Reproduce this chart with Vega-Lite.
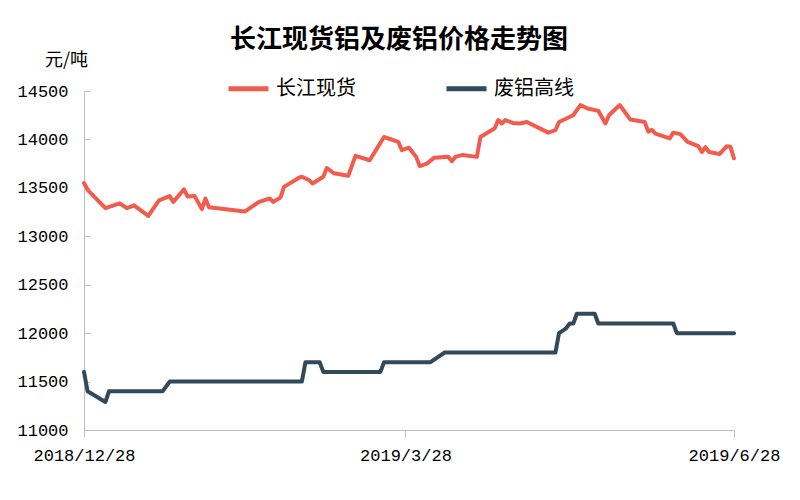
{
  "$schema": "https://vega.github.io/schema/vega-lite/v6.json",
  "width": 650,
  "height": 339,
  "autosize": {"type": "none"},
  "padding": {"left": 84, "top": 91, "right": 66, "bottom": 70},
  "background": "white",
  "title": {
    "text": "长江现货铝及废铝价格走势图",
    "font": "Noto Sans CJK SC",
    "fontSize": 26,
    "fontWeight": "bold",
    "color": "#000000",
    "anchor": "middle",
    "dx": -10,
    "offset": -2
  },
  "data": {
    "values": [
      {"date": "2018-12-28T00:00:00", "series": "长江现货", "value": 13550},
      {"date": "2018-12-29T00:00:00", "series": "长江现货", "value": 13480},
      {"date": "2019-01-03T00:00:00", "series": "长江现货", "value": 13290},
      {"date": "2019-01-07T00:00:00", "series": "长江现货", "value": 13340},
      {"date": "2019-01-09T00:00:00", "series": "长江现货", "value": 13290},
      {"date": "2019-01-11T00:00:00", "series": "长江现货", "value": 13320},
      {"date": "2019-01-15T00:00:00", "series": "长江现货", "value": 13210},
      {"date": "2019-01-18T00:00:00", "series": "长江现货", "value": 13370},
      {"date": "2019-01-21T00:00:00", "series": "长江现货", "value": 13415},
      {"date": "2019-01-22T00:00:00", "series": "长江现货", "value": 13355},
      {"date": "2019-01-25T00:00:00", "series": "长江现货", "value": 13485},
      {"date": "2019-01-26T00:00:00", "series": "长江现货", "value": 13410},
      {"date": "2019-01-28T00:00:00", "series": "长江现货", "value": 13415},
      {"date": "2019-01-30T00:00:00", "series": "长江现货", "value": 13280},
      {"date": "2019-01-31T00:00:00", "series": "长江现货", "value": 13390},
      {"date": "2019-02-01T00:00:00", "series": "长江现货", "value": 13300},
      {"date": "2019-02-11T00:00:00", "series": "长江现货", "value": 13255},
      {"date": "2019-02-15T00:00:00", "series": "长江现货", "value": 13355},
      {"date": "2019-02-18T00:00:00", "series": "长江现货", "value": 13390},
      {"date": "2019-02-19T00:00:00", "series": "长江现货", "value": 13355},
      {"date": "2019-02-21T00:00:00", "series": "长江现货", "value": 13400},
      {"date": "2019-02-22T00:00:00", "series": "长江现货", "value": 13510},
      {"date": "2019-02-26T00:00:00", "series": "长江现货", "value": 13600},
      {"date": "2019-02-27T00:00:00", "series": "长江现货", "value": 13615},
      {"date": "2019-03-01T00:00:00", "series": "长江现货", "value": 13580},
      {"date": "2019-03-02T00:00:00", "series": "长江现货", "value": 13545},
      {"date": "2019-03-05T00:00:00", "series": "长江现货", "value": 13615},
      {"date": "2019-03-06T00:00:00", "series": "长江现货", "value": 13705},
      {"date": "2019-03-08T00:00:00", "series": "长江现货", "value": 13650},
      {"date": "2019-03-12T00:00:00", "series": "长江现货", "value": 13625},
      {"date": "2019-03-14T00:00:00", "series": "长江现货", "value": 13830},
      {"date": "2019-03-18T00:00:00", "series": "长江现货", "value": 13785},
      {"date": "2019-03-20T00:00:00", "series": "长江现货", "value": 13905},
      {"date": "2019-03-22T00:00:00", "series": "长江现货", "value": 14025},
      {"date": "2019-03-26T00:00:00", "series": "长江现货", "value": 13975},
      {"date": "2019-03-27T00:00:00", "series": "长江现货", "value": 13890},
      {"date": "2019-03-29T00:00:00", "series": "长江现货", "value": 13915},
      {"date": "2019-03-31T00:00:00", "series": "长江现货", "value": 13820},
      {"date": "2019-04-01T00:00:00", "series": "长江现货", "value": 13725},
      {"date": "2019-04-03T00:00:00", "series": "长江现货", "value": 13750},
      {"date": "2019-04-05T00:00:00", "series": "长江现货", "value": 13810},
      {"date": "2019-04-09T00:00:00", "series": "长江现货", "value": 13820},
      {"date": "2019-04-10T00:00:00", "series": "长江现货", "value": 13775},
      {"date": "2019-04-11T00:00:00", "series": "长江现货", "value": 13820},
      {"date": "2019-04-13T00:00:00", "series": "长江现货", "value": 13840},
      {"date": "2019-04-17T00:00:00", "series": "长江现货", "value": 13820},
      {"date": "2019-04-18T00:00:00", "series": "长江现货", "value": 14025},
      {"date": "2019-04-22T00:00:00", "series": "长江现货", "value": 14115},
      {"date": "2019-04-23T00:00:00", "series": "长江现货", "value": 14200},
      {"date": "2019-04-24T00:00:00", "series": "长江现货", "value": 14165},
      {"date": "2019-04-25T00:00:00", "series": "长江现货", "value": 14200},
      {"date": "2019-04-27T00:00:00", "series": "长江现货", "value": 14170},
      {"date": "2019-04-29T00:00:00", "series": "长江现货", "value": 14165},
      {"date": "2019-05-01T00:00:00", "series": "长江现货", "value": 14180},
      {"date": "2019-05-07T00:00:00", "series": "长江现货", "value": 14070},
      {"date": "2019-05-09T00:00:00", "series": "长江现货", "value": 14095},
      {"date": "2019-05-10T00:00:00", "series": "长江现货", "value": 14180},
      {"date": "2019-05-14T00:00:00", "series": "长江现货", "value": 14250},
      {"date": "2019-05-16T00:00:00", "series": "长江现货", "value": 14355},
      {"date": "2019-05-18T00:00:00", "series": "长江现货", "value": 14320},
      {"date": "2019-05-21T00:00:00", "series": "长江现货", "value": 14295},
      {"date": "2019-05-23T00:00:00", "series": "长江现货", "value": 14165},
      {"date": "2019-05-24T00:00:00", "series": "长江现货", "value": 14250},
      {"date": "2019-05-27T00:00:00", "series": "长江现货", "value": 14355},
      {"date": "2019-05-30T00:00:00", "series": "长江现货", "value": 14205},
      {"date": "2019-06-03T00:00:00", "series": "长江现货", "value": 14180},
      {"date": "2019-06-04T00:00:00", "series": "长江现货", "value": 14080},
      {"date": "2019-06-05T00:00:00", "series": "长江现货", "value": 14100},
      {"date": "2019-06-06T00:00:00", "series": "长江现货", "value": 14060},
      {"date": "2019-06-10T00:00:00", "series": "长江现货", "value": 14010},
      {"date": "2019-06-11T00:00:00", "series": "长江现货", "value": 14070},
      {"date": "2019-06-13T00:00:00", "series": "长江现货", "value": 14055},
      {"date": "2019-06-15T00:00:00", "series": "长江现货", "value": 13975},
      {"date": "2019-06-18T00:00:00", "series": "长江现货", "value": 13930},
      {"date": "2019-06-19T00:00:00", "series": "长江现货", "value": 13870},
      {"date": "2019-06-20T00:00:00", "series": "长江现货", "value": 13920},
      {"date": "2019-06-21T00:00:00", "series": "长江现货", "value": 13870},
      {"date": "2019-06-24T00:00:00", "series": "长江现货", "value": 13850},
      {"date": "2019-06-26T00:00:00", "series": "长江现货", "value": 13930},
      {"date": "2019-06-27T00:00:00", "series": "长江现货", "value": 13925},
      {"date": "2019-06-28T00:00:00", "series": "长江现货", "value": 13805},
      {"date": "2018-12-28T00:00:00", "series": "废铝高线", "value": 11600},
      {"date": "2018-12-29T00:00:00", "series": "废铝高线", "value": 11400},
      {"date": "2019-01-03T00:00:00", "series": "废铝高线", "value": 11290},
      {"date": "2019-01-04T00:00:00", "series": "废铝高线", "value": 11400},
      {"date": "2019-01-19T00:00:00", "series": "废铝高线", "value": 11400},
      {"date": "2019-01-21T00:00:00", "series": "废铝高线", "value": 11500},
      {"date": "2019-02-27T00:00:00", "series": "废铝高线", "value": 11500},
      {"date": "2019-02-28T00:00:00", "series": "废铝高线", "value": 11700},
      {"date": "2019-03-04T00:00:00", "series": "废铝高线", "value": 11700},
      {"date": "2019-03-05T00:00:00", "series": "废铝高线", "value": 11600},
      {"date": "2019-03-21T00:00:00", "series": "废铝高线", "value": 11600},
      {"date": "2019-03-22T00:00:00", "series": "废铝高线", "value": 11700},
      {"date": "2019-04-04T00:00:00", "series": "废铝高线", "value": 11700},
      {"date": "2019-04-08T00:00:00", "series": "废铝高线", "value": 11800},
      {"date": "2019-05-09T00:00:00", "series": "废铝高线", "value": 11800},
      {"date": "2019-05-10T00:00:00", "series": "废铝高线", "value": 12000},
      {"date": "2019-05-12T00:00:00", "series": "废铝高线", "value": 12050},
      {"date": "2019-05-13T00:00:00", "series": "废铝高线", "value": 12100},
      {"date": "2019-05-14T00:00:00", "series": "废铝高线", "value": 12100},
      {"date": "2019-05-15T00:00:00", "series": "废铝高线", "value": 12200},
      {"date": "2019-05-20T00:00:00", "series": "废铝高线", "value": 12200},
      {"date": "2019-05-21T00:00:00", "series": "废铝高线", "value": 12100},
      {"date": "2019-06-11T00:00:00", "series": "废铝高线", "value": 12100},
      {"date": "2019-06-12T00:00:00", "series": "废铝高线", "value": 12000},
      {"date": "2019-06-28T00:00:00", "series": "废铝高线", "value": 12000}
    ]
  },
  "mark": {"type": "line", "strokeWidth": 4, "strokeJoin": "round", "strokeCap": "round"},
  "encoding": {
    "x": {
      "field": "date",
      "type": "temporal",
      "scale": {"domain": [{"year": 2018, "month": 12, "date": 28}, {"year": 2019, "month": 6, "date": 28}]},
      "axis": {
        "title": null,
        "grid": false,
        "values": [{"year": 2018, "month": 12, "date": 28}, {"year": 2019, "month": 3, "date": 28}, {"year": 2019, "month": 6, "date": 28}],
        "format": "%Y/%-m/%d",
        "labelFont": "Liberation Mono",
        "labelFontSize": 17,
        "labelColor": "#000000",
        "labelPadding": 10,
        "tickSize": 7,
        "tickColor": "#BFBFBF",
        "domainColor": "#BFBFBF",
        "labelFlush": false
      }
    },
    "y": {
      "field": "value",
      "type": "quantitative",
      "scale": {"domain": [11000, 14500], "nice": false, "zero": false},
      "axis": {
        "title": "元/吨",
        "titleAngle": 0,
        "titleAlign": "center",
        "titleBaseline": "middle",
        "titleX": -18,
        "titleY": -31,
        "titleFont": "Noto Sans CJK SC",
        "titleFontSize": 18,
        "titleFontWeight": "normal",
        "titleColor": "#000000",
        "grid": false,
        "values": [11000, 11500, 12000, 12500, 13000, 13500, 14000, 14500],
        "format": "d",
        "labelFont": "Liberation Mono",
        "labelFontSize": 17,
        "labelColor": "#000000",
        "tickSize": -6,
        "labelPadding": 22,
        "tickColor": "#BFBFBF",
        "domainColor": "#BFBFBF"
      }
    },
    "color": {
      "field": "series",
      "type": "nominal",
      "scale": {"domain": ["长江现货", "废铝高线"], "range": ["#F25C4C", "#314959"]},
      "legend": {
        "title": null,
        "orient": "none",
        "direction": "horizontal",
        "legendX": 142,
        "legendY": -25,
        "symbolType": "stroke",
        "symbolSize": 1600,
        "symbolStrokeWidth": 5,
        "labelFont": "Noto Sans CJK SC",
        "labelFontSize": 20,
        "labelColor": "#000000",
        "labelOffset": 5,
        "columnPadding": 80
      }
    }
  },
  "config": {"view": {"stroke": null}}
}
